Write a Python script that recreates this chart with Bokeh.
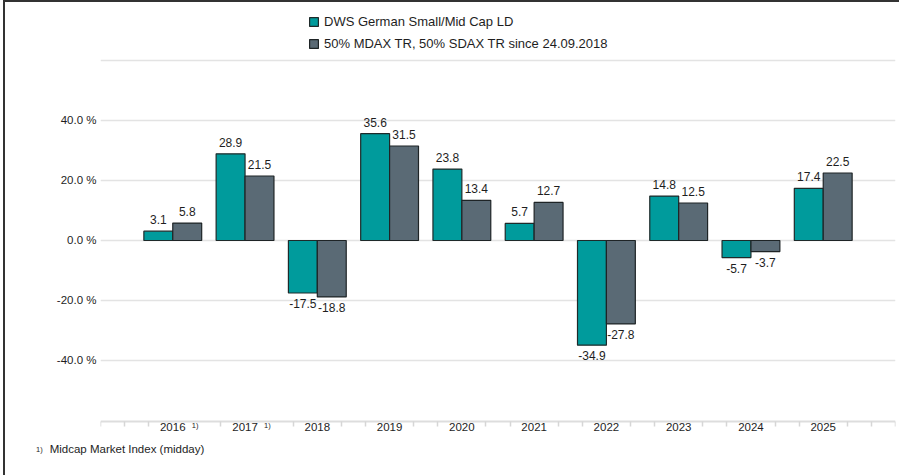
from bokeh.plotting import figure
from bokeh.layouts import column
from bokeh.models import ColumnDataSource, FixedTicker, Label, Range1d, Legend, Div
from bokeh.core.properties import value
from bokeh.embed import file_html
from bokeh.resources import INLINE

years = ["2016", "2017", "2018", "2019", "2020", "2021", "2022", "2023", "2024", "2025"]
fund = [3.1, 28.9, -17.5, 35.6, 23.8, 5.7, -34.9, 14.8, -5.7, 17.4]
bench = [5.8, 21.5, -18.8, 31.5, 13.4, 12.7, -27.8, 12.5, -3.7, 22.5]
series_names = ["DWS German Small/Mid Cap LD", "50% MDAX TR, 50% SDAX TR since 24.09.2018"]
footnote_years = ["2016", "2017"]
footnote_mark = "1)"
footnote_text = "Midcap Market Index (midday)"
y_label_ticks = [-40, -20, 0, 20, 40]
y_grid_ticks = [-40, -20, 0, 20, 40, 60]

TEAL = "#009B9C"
GREY = "#5A6A75"
FONT = "Liberation Sans"
TXT = "#1e1e1e"
BORDER = "2px solid #333333"

idx = list(range(len(years)))
x_fund = [i - 0.2 for i in idx]
x_bench = [i + 0.2 for i in idx]
src_f = ColumnDataSource(dict(x=x_fund, top=fund))
src_b = ColumnDataSource(dict(x=x_bench, top=bench))

AXIS_Y = -60.33

p = figure(width=894, height=438, output_backend="svg", toolbar_location=None,
           x_range=Range1d(-1, 10), y_range=Range1d(-66.67, 79.33),
           min_border_left=95, min_border_right=4, min_border_top=0, min_border_bottom=0)
p.outline_line_color = None

r1 = p.vbar(x="x", top="top", bottom=0, width=0.4, source=src_f, fill_color=TEAL,
            line_color="#1e2a2a", line_width=1.2)
r2 = p.vbar(x="x", top="top", bottom=0, width=0.4, source=src_b, fill_color=GREY,
            line_color="#1e2426", line_width=1.2)

for xs, vals in ((x_fund, fund), (x_bench, bench)):
    pos = ColumnDataSource(dict(
        x=[x for x, v in zip(xs, vals) if v >= 0],
        y=[v for v in vals if v >= 0],
        t=[f"{v:.1f}" for v in vals if v >= 0]))
    neg = ColumnDataSource(dict(
        x=[x for x, v in zip(xs, vals) if v < 0],
        y=[v for v in vals if v < 0],
        t=[f"{v:.1f}" for v in vals if v < 0]))
    p.text(x="x", y="y", text="t", source=pos, text_align="center", text_baseline="bottom",
           y_offset=-7, text_font=value(FONT), text_font_size="12px", text_color=TXT)
    p.text(x="x", y="y", text="t", source=neg, text_align="center", text_baseline="top",
           y_offset=6, text_font=value(FONT), text_font_size="12px", text_color=TXT)

# y axis
p.yaxis.ticker = FixedTicker(ticks=y_label_ticks)
p.yaxis.major_label_overrides = {t: f"{t:.1f} %" for t in y_label_ticks}
p.yaxis.axis_line_color = None
p.yaxis.major_tick_line_color = None
p.yaxis.major_tick_out = 0
p.yaxis.major_tick_in = 0
p.yaxis.minor_tick_line_color = None
p.yaxis.major_label_standoff = 4
p.yaxis.major_label_text_font = FONT
p.yaxis.major_label_text_font_size = "11.5px"
p.yaxis.major_label_text_color = TXT
p.ygrid.ticker = FixedTicker(ticks=y_grid_ticks)
p.ygrid.grid_line_color = "#e3e3e3"
p.ygrid.grid_line_width = 1.5

# x axis (fixed at the bottom of the chart area)
minor = []
for k in range(-3, 31):
    if k % 3 == 0 and 0 <= k // 3 <= 9:
        continue
    if k in (1, 4):
        continue
    minor.append(k / 3)
p.xaxis.fixed_location = AXIS_Y
p.xaxis.ticker = FixedTicker(ticks=idx, minor_ticks=minor)
p.xaxis.major_label_overrides = {i: y for i, y in zip(idx, years)}
p.xaxis.axis_line_color = "#dddddd"
p.xaxis.axis_line_width = 2
p.xaxis.major_tick_line_color = None
p.xaxis.major_tick_out = 0
p.xaxis.major_tick_in = 0
p.xaxis.minor_tick_line_color = "#d6d6d6"
p.xaxis.minor_tick_line_width = 1.5
p.xaxis.minor_tick_out = 5
p.xaxis.minor_tick_in = 0
p.xaxis.major_label_standoff = -3
p.xaxis.major_label_text_font = FONT
p.xaxis.major_label_text_font_size = "11.5px"
p.xaxis.major_label_text_color = TXT
p.xgrid.grid_line_color = None

for yr in footnote_years:
    i = years.index(yr)
    p.add_layout(Label(x=i + 0.31, y=AXIS_Y - 1.3, text=footnote_mark, text_font=FONT,
                       text_font_size="7.5px", text_color=TXT,
                       text_align="center", text_baseline="middle"))

legend = Legend(items=[(series_names[0], [r1]), (series_names[1], [r2])],
                location=(208, 387), orientation="vertical")
legend.border_line_color = None
legend.background_fill_alpha = 0
legend.padding = 0
legend.margin = 0
legend.spacing = 2
legend.glyph_width = 11
legend.glyph_height = 11
legend.label_height = 20
legend.label_standoff = 5
legend.label_text_font = FONT
legend.label_text_font_size = "13px"
legend.label_text_color = TXT
p.add_layout(legend)

# footnote strip
foot = Div(
    text=(f'<span style="font-size:7.5px;position:relative;top:-1px;">{footnote_mark}</span>'
          f'<span style="margin-left:7px;">{footnote_text}</span>'),
    width=894, height=35,
    styles={"font-family": FONT, "font-size": "11.5px", "color": TXT},
    stylesheets=["div { padding-left: 26px; padding-top: 0px; line-height: 14px; "
                 "position: relative; top: -4px; }"])

layout = column(p, foot, spacing=0,
                styles={"border-left": BORDER, "border-top": BORDER, "margin-left": "3px"})
open("out.html", "w").write(file_html(layout, INLINE))
